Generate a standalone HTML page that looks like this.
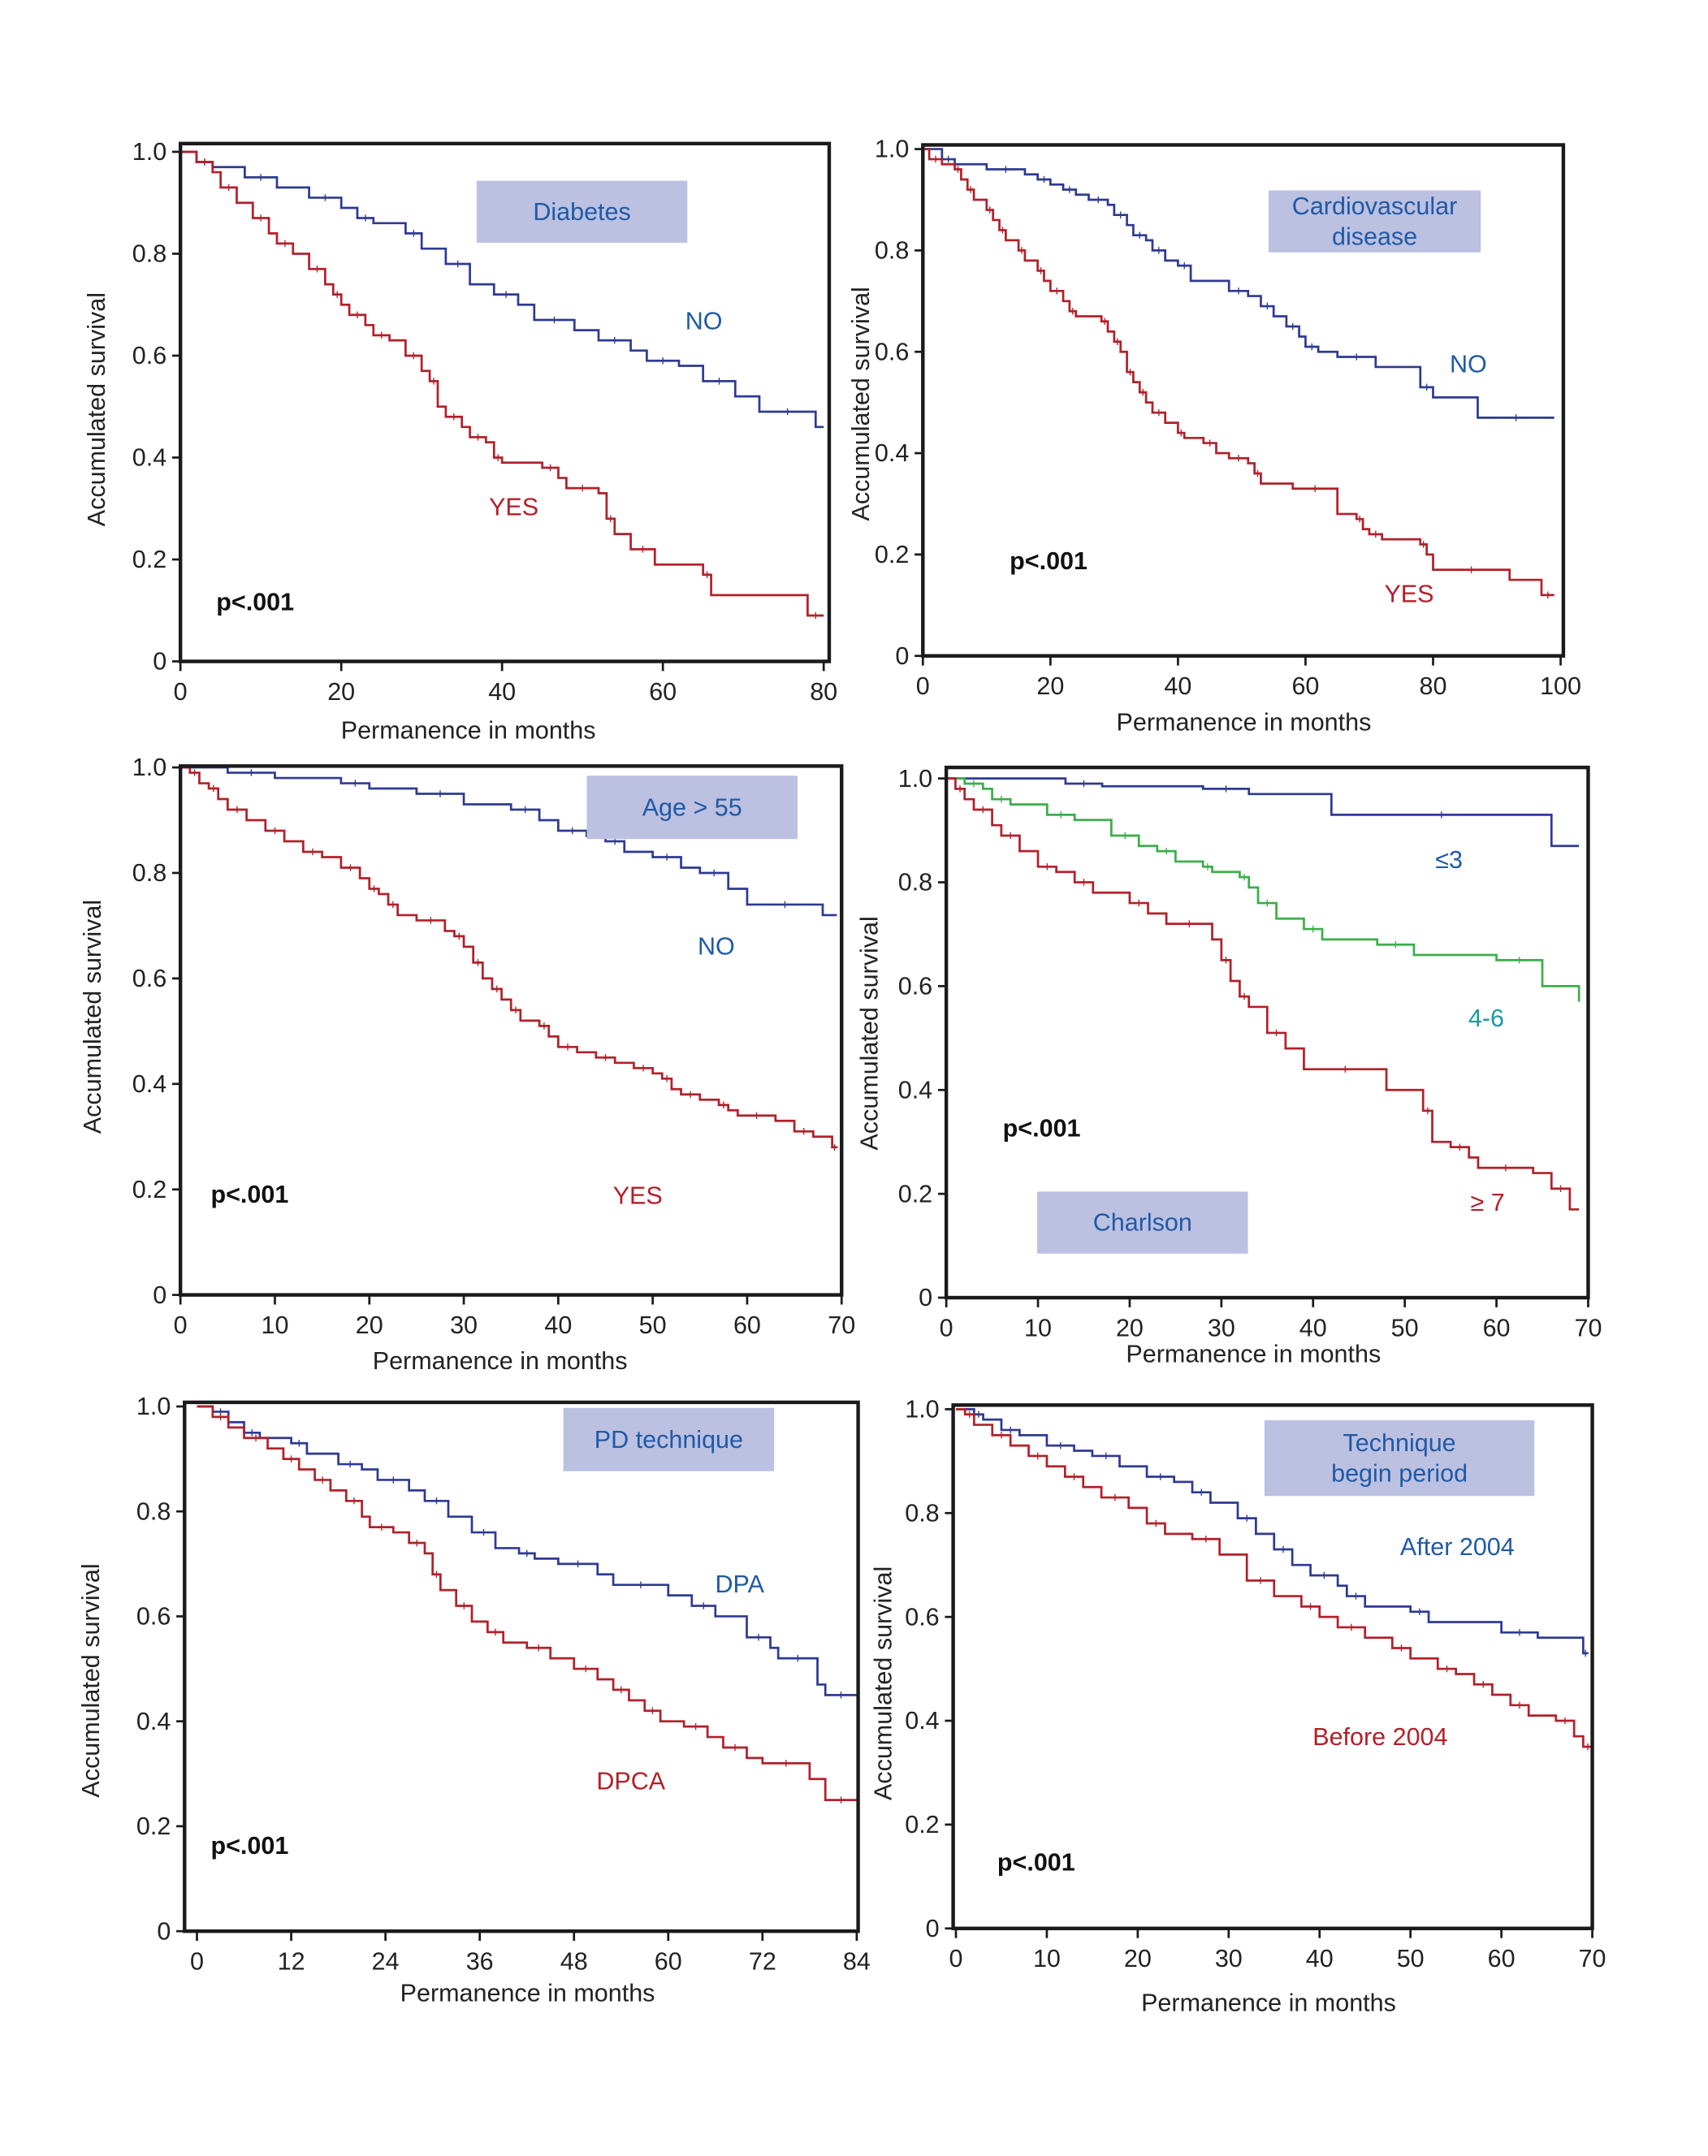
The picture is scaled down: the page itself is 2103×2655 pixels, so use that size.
<!DOCTYPE html>
<html><head><meta charset="utf-8"><style>
html,body{margin:0;padding:0;background:#fff}
svg{display:block}
text{font-family:"Liberation Sans",sans-serif}
</style></head><body>
<svg id="fig" width="2103" height="2655" viewBox="0 0 1240 1565" xmlns="http://www.w3.org/2000/svg">
<rect width="1240" height="1565" fill="#fff"/>
</svg>
<script>
// ---- data (time in months, survival) ----
const p1NoT=[0,2,4,8,12,16,20,22,24,28,30,33,36,39,42,44,49,52,56,58,62,65,69,72,79,80];
const p1NoS=[1,.98,.97,.95,.93,.91,.89,.87,.86,.84,.81,.78,.74,.72,.70,.67,.65,.63,.61,.59,.58,.55,.52,.49,.46,.46];
const p1YesT=[0,2,4,5,7,9,11,12,14,16,18,19,20,21,23,24,26,28,30,31,32,33,35,36,38,39,40,45,47,48,52,53,54,56,59,65,66,78,80];
const p1YesS=[1,.98,.96,.93,.90,.87,.84,.82,.80,.77,.74,.72,.70,.68,.66,.64,.63,.60,.57,.55,.50,.48,.46,.44,.43,.40,.39,.38,.36,.34,.33,.28,.25,.22,.19,.17,.13,.09,.09];
const p2NoT=[0,3,5,10,16,18,20,22,24,26,29,30,32,33,35,36,38,40,42,48,51,53,55,57,59,60,62,65,71,78,80,87,99];
const p2NoS=[1,.98,.97,.96,.95,.94,.93,.92,.91,.90,.89,.87,.85,.83,.82,.80,.78,.77,.74,.72,.71,.69,.67,.65,.63,.61,.60,.59,.57,.53,.51,.47,.47];
const p2YesT=[0,1,3,5,6,7,8,10,11,12,13,15,16,18,19,20,22,23,24,28,29,30,31,32,33,34,35,36,38,40,41,44,46,48,51,52,53,58,65,68,69,70,72,78,79,80,92,97,99];
const p2YesS=[1,.98,.97,.96,.94,.92,.90,.88,.86,.84,.82,.80,.78,.76,.74,.72,.70,.68,.67,.66,.64,.62,.60,.56,.54,.52,.50,.48,.46,.44,.43,.42,.40,.39,.38,.36,.34,.33,.28,.27,.25,.24,.23,.22,.20,.17,.15,.12,.12];
const p3NoT=[0,5,10,17,20,25,30,35,38,40,43,45,47,50,53,55,58,60,68,69.5];
const p3NoS=[1,.99,.98,.97,.96,.95,.93,.92,.90,.88,.87,.86,.84,.83,.81,.80,.77,.74,.72,.72];
const p3YesT=[0,1,2,3,4,5,7,9,11,13,15,17,19,20,21,22,23,25,28,29,30,31,32,33,34,35,36,38,39,40,42,44,46,48,50,51,52,53,55,57,58,59,63,65,67,69,69.5];
const p3YesS=[1,.99,.97,.96,.94,.92,.90,.88,.86,.84,.83,.81,.79,.77,.76,.74,.72,.71,.69,.68,.66,.63,.60,.58,.56,.54,.52,.51,.49,.47,.46,.45,.44,.43,.42,.41,.39,.38,.37,.36,.35,.34,.33,.31,.30,.28,.28];
const p4LowT=[0,13,17,28,33,42,66,69];
const p4LowS=[1,.99,.985,.98,.97,.93,.87,.87];
const p4MidT=[0,2,4,5,7,11,14,18,21,23,25,28,29,32,33,34,36,39,41,47,51,60,65,69];
const p4MidS=[1,.99,.98,.96,.95,.93,.92,.89,.87,.86,.84,.83,.82,.81,.79,.76,.73,.71,.69,.68,.66,.65,.60,.57];
const p4HighT=[0,1,2,3,5,6,8,10,12,14,16,20,22,24,29,30,31,32,33,35,37,39,48,52,53,55,57,58,64,66,68,69];
const p4HighS=[1,.98,.96,.94,.91,.89,.86,.83,.82,.80,.78,.76,.74,.72,.69,.65,.61,.58,.56,.51,.48,.44,.40,.36,.30,.29,.27,.25,.24,.21,.17,.17];
const p5DpaT=[0,2,4,6,8,12,14,18,21,23,27,29,32,35,38,41,43,46,51,53,60,63,66,70,73,74,79,80,84];
const p5DpaS=[1,.99,.97,.95,.94,.93,.91,.89,.88,.86,.84,.82,.79,.76,.73,.72,.71,.70,.68,.66,.64,.62,.60,.56,.54,.52,.47,.45,.45];
const p5DpcaT=[0,2,4,6,9,11,13,15,17,19,21,22,25,27,29,30,31,33,35,37,39,42,45,48,51,53,55,57,59,62,65,67,70,72,78,80,84];
const p5DpcaS=[1,.98,.96,.94,.92,.90,.88,.86,.84,.82,.79,.77,.76,.74,.72,.68,.65,.62,.59,.57,.55,.54,.52,.50,.48,.46,.44,.42,.40,.39,.37,.35,.33,.32,.29,.25,.25];
const p6AftT=[0,2,3,5,7,10,13,15,18,21,24,26,28,31,33,35,37,39,42,43,45,50,52,60,64,69,69.5];
const p6AftS=[1,.99,.98,.96,.95,.93,.92,.91,.89,.87,.86,.84,.82,.79,.76,.73,.70,.68,.66,.64,.62,.61,.59,.57,.56,.53,.53];
const p6BefT=[0,1,2,4,6,8,10,12,14,16,19,21,23,26,29,32,35,38,40,42,45,48,50,53,55,57,59,61,63,66,68,69,70];
const p6BefS=[1,.99,.97,.95,.93,.91,.89,.87,.85,.83,.81,.78,.76,.75,.72,.67,.64,.62,.60,.58,.56,.54,.52,.50,.49,.47,.45,.43,.41,.40,.37,.35,.35];
const p1XTicks=[0,20,40,60,80], p2XTicks=[0,20,40,60,80,100], p3XTicks=[0,10,20,30,40,50,60,70];
const p4XTicks=[0,10,20,30,40,50,60,70], p5XTicks=[0,12,24,36,48,60,72,84], p6XTicks=[0,10,20,30,40,50,60,70];
const yTicks=[0,0.2,0.4,0.6,0.8,1.0];
const yTickLabels=["0","0.2","0.4","0.6","0.8","1.0"];

const BLUE="#2e3a92", RED="#b2202a", GREEN="#3aae4a";
const svg=document.getElementById('fig');
const NS="http://www.w3.org/2000/svg";
function mk(tag,attrs,parent){const e=document.createElementNS(NS,tag);for(const k in attrs)e.setAttribute(k,attrs[k]);parent.appendChild(e);return e;}
function txt(parent,x,y,s,opts){const t=mk('text',{x:x,y:y,'font-size':opts.size||18,fill:opts.fill||'#222','text-anchor':opts.anchor||'middle'},parent);if(opts.bold)t.setAttribute('font-weight','bold');if(opts.rot)t.setAttribute('transform','rotate(-90 '+x+' '+y+')');t.textContent=s;return t;}

const panels=[
 {id:'diabetes',L:131,R:602,T:104,B:480,x0:131,x1:598,xmax:80,y0:480,y1:110,ticks:p1XTicks,
  series:[[p1NoT,p1NoS,BLUE,'no'],[p1YesT,p1YesS,RED,'yes']],
  box:[346,131,153,45],boxText:['Diabetes'],labels:[['NO',511,239,'#1f5aa6'],['YES',373,374,RED]],p:[157,443],yl:[76,297],xl:[340,536]},
 {id:'cardiovascular',L:670,R:1135,T:105,B:476,x0:670,x1:1133,xmax:100,y0:476,y1:108,ticks:p2XTicks,
  series:[[p2NoT,p2NoS,BLUE,'no'],[p2YesT,p2YesS,RED,'yes']],
  box:[921,138,154,45],boxText:['Cardiovascular','disease'],labels:[['NO',1066,270,'#1f5aa6'],['YES',1023,437,RED]],p:[733,413],yl:[631,293],xl:[903,530]},
 {id:'age',L:131,R:611,T:556,B:940,x0:131,x1:611,xmax:70,y0:940,y1:557,ticks:p3XTicks,
  series:[[p3NoT,p3NoS,BLUE,'no'],[p3YesT,p3YesS,RED,'yes']],
  box:[426,563,153,46],boxText:['Age  > 55'],labels:[['NO',520,693,'#1f5aa6'],['YES',463,874,RED]],p:[153,873],yl:[73,738],xl:[363,994]},
 {id:'charlson',L:687,R:1153,T:557,B:942,x0:687,x1:1153,xmax:70,y0:942,y1:565,ticks:p4XTicks,
  series:[[p4LowT,p4LowS,BLUE,'low'],[p4MidT,p4MidS,GREEN,'mid'],[p4HighT,p4HighS,RED,'high']],
  box:[753,865,153,45],boxText:['Charlson'],labels:[['≤3',1052,630,'#1f5aa6'],['4-6',1079,745,'#1a9aa0'],['≥ 7',1080,879,RED]],p:[728,825],yl:[637,750],xl:[910,989]},
 {id:'pd-technique',L:134,R:623,T:1018,B:1402,x0:143,x1:622,xmax:84,y0:1402,y1:1021,ticks:p5XTicks,
  series:[[p5DpaT,p5DpaS,BLUE,'dpa'],[p5DpcaT,p5DpcaS,RED,'dpca']],
  box:[409,1022,153,46],boxText:['PD technique'],labels:[['DPA',537,1156,'#1f5aa6'],['DPCA',458,1299,RED]],p:[153,1346],yl:[72,1220],xl:[383,1453]},
 {id:'technique-period',L:692,R:1156,T:1020,B:1400,x0:694,x1:1156,xmax:70,y0:1400,y1:1023,ticks:p6XTicks,
  series:[[p6AftT,p6AftS,BLUE,'after-2004'],[p6BefT,p6BefS,RED,'before-2004']],
  box:[918,1031,196,55],boxText:['Technique','begin period'],labels:[['After 2004',1058,1129,'#1f5aa6'],['Before 2004',1002,1267,RED]],p:[724,1358],yl:[647,1222],xl:[921,1460]}
];

panels.forEach(P=>{
  const g=mk('g',{},svg);
  
  
  const xs=v=>P.x0+(P.x1-P.x0)*v/P.xmax;
  const ys=v=>P.y0-(P.y0-P.y1)*v;
  // series
  P.series.forEach(s=>{
    const [T,S,c,nm]=s;
    let d='M'+xs(T[0])+' '+ys(S[0]);
    for(let i=1;i<T.length;i++){d+=' H'+xs(T[i])+' V'+ys(S[i]);}
    const path=mk('path',{d:d,fill:'none',stroke:c,'stroke-width':1.6},g);
    
    
    for(let i=1;i<T.length-1;i+=2){
      const cx=xs(T[i])+ (xs(T[i+1])-xs(T[i]))*0.5, cy=ys(S[i]);
      mk('path',{d:'M'+(cx-2.5)+' '+cy+' H'+(cx+2.5)+' M'+cx+' '+(cy-2.5)+' V'+(cy+2.5),stroke:c,'stroke-width':0.8},g);
    }
  });
  // frame
  const fr=mk('rect',{x:P.L,y:P.T,width:P.R-P.L,height:P.B-P.T,fill:'none',stroke:'#1a1a1a','stroke-width':2.6},g);
  
  
  // y ticks
  yTicks.forEach((v,i)=>{
    const y=ys(v);
    mk('line',{x1:P.L-6,x2:P.L,y1:y,y2:y,stroke:'#1a1a1a','stroke-width':1.6},g);
    const t=txt(g,P.L-10,y+6,yTickLabels[i],{anchor:'end',size:18});
    
    
  });
  // x ticks
  P.ticks.forEach(v=>{
    const x=xs(v);
    mk('line',{x1:x,x2:x,y1:P.B,y2:P.B+7,stroke:'#1a1a1a','stroke-width':1.6},g);
    const t=txt(g,x,P.B+28,String(v),{size:18});
    
    
  });
  // legend box
  const b=mk('rect',{x:P.box[0],y:P.box[1],width:P.box[2],height:P.box[3],fill:'#bcc0e1'},g);
  
  
  const cx=P.box[0]+P.box[2]/2, n=P.boxText.length;
  P.boxText.forEach((s,i)=>{
    const t=txt(g,cx,P.box[1]+P.box[3]/2+6+(i-(n-1)/2)*22,s,{fill:'#1f5aa6',size:18});
    
    
  });
  P.labels.forEach(l=>{
    const t=txt(g,l[1],l[2],l[0],{fill:l[3],size:18});
    
    
  });
  const pt=txt(g,P.p[0],P.p[1],'p<.001',{anchor:'start',bold:true,size:18,fill:'#111'});
  
  
  const yl=txt(g,P.yl[0],P.yl[1],'Accumulated survival',{rot:true,size:18});
  
  
  const xl=txt(g,P.xl[0],P.xl[1],'Permanence  in months',{size:18});
  
  
});
</script>
</body></html>
